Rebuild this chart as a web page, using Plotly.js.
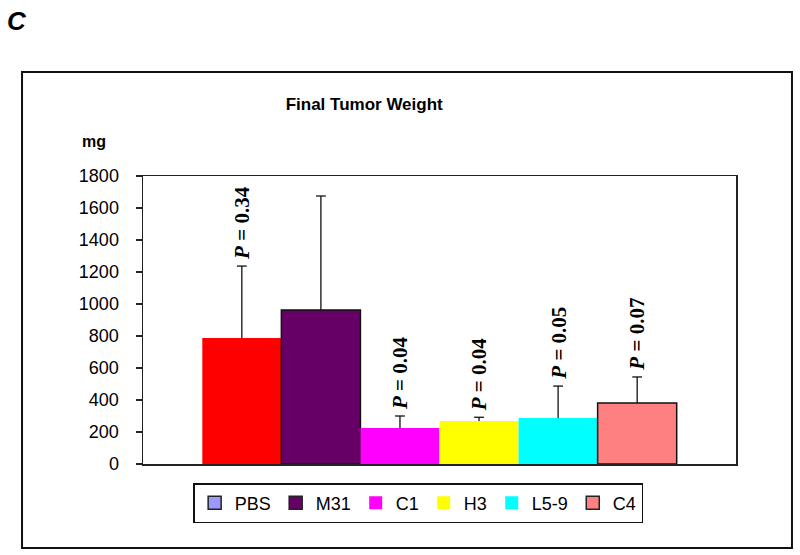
<!DOCTYPE html>
<html>
<head>
<meta charset="utf-8">
<script src="https://cdn.plot.ly/plotly-3.0.1.min.js"></script>
<style>
  body { margin: 0; background: #fff; }
  #plot { width: 800px; height: 555px; }
</style>
</head>
<body>
<div id="plot"></div>
<script>
/* Final tumor weight per group, mean + upper error (mg) */
var groups = ['PBS', 'M31', 'C1', 'H3', 'L5-9', 'C4'];
var weights = [787, 962, 225, 269, 287, 381];
var errPlus = [450, 713, 75, 23, 200, 163];
var pValues = ['0.34', '', '0.04', '0.04', '0.05', '0.07'];

var barColors = ['#ff0000', '#660066', '#ff00ff', '#ffff00', '#00ffff', '#ff8080'];
var legendColors = ['#9999ff', '#660066', '#ff00ff', '#ffff00', '#00ffff', '#ff8080'];
var edged = [false, true, false, false, false, true];
var legendEdged = [true, true, false, false, false, true];

var axisFont = 'Arial, Liberation Sans, sans-serif';

/* the bars */
var bars =
{
  x: groups,
  y: weights,
  type: 'bar',
  showlegend: false,
  marker: {
    color: barColors,
    line: {
      color: edged.map(function (e) { return e ? '#111' : 'rgba(0,0,0,0)'; }),
      width: edged.map(function (e) { return e ? 1.5 : 0; })
    }
  }
};

/* upper-only error bars: stems from bar top to mean + error, cap on top */
var stemX = [], stemY = [];
groups.forEach(function (g, i) {
  stemX.push(g, g, null);
  stemY.push(weights[i], weights[i] + errPlus[i], null);
});
var stems =
{
  x: stemX,
  y: stemY,
  type: 'scatter',
  mode: 'lines',
  showlegend: false,
  line: { color: '#111', width: 1.3 }
};
var caps =
{
  x: groups,
  y: weights.map(function (w, i) { return w + errPlus[i]; }),
  type: 'scatter',
  mode: 'markers',
  showlegend: false,
  marker: { symbol: 'line-ew-open', size: 7, color: '#111', line: { color: '#111', width: 1.3 } }
};

/* legend proxies (the legend swatch colours differ from the bars) */
var legendTraces = groups.map(function (g, i) {
  return {
    x: [null],
    y: [null],
    type: 'scatter',
    mode: 'markers',
    name: g,
    marker: {
      symbol: 'square',
      size: 13,
      color: legendColors[i],
      line: { color: '#222', width: legendEdged[i] ? 1.5 : 0 }
    }
  };
});

/* P value labels above the error bars */
var notes = [];
groups.forEach(function (g, i) {
  if (!pValues[i]) return;
  notes.push({
    x: g,
    y: weights[i] + errPlus[i],
    xref: 'x',
    yref: 'y',
    text: '<b><i>P</i> = ' + pValues[i] + '</b>',
    showarrow: false,
    textangle: -90,
    xanchor: 'center',
    yanchor: 'bottom',
    yshift: 4,
    font: { family: 'Liberation Serif, Times New Roman, serif', size: 21, color: '#000' }
  });
});

notes.push({
  text: '<b>mg</b>', xref: 'paper', yref: 'paper', x: -0.083, y: 1.1215,
  showarrow: false, xanchor: 'center', yanchor: 'middle',
  font: { family: axisFont, size: 16, color: '#000' }
});
notes.push({
  text: '<b><i>C</i></b>', xref: 'paper', yref: 'paper', x: -0.213, y: 1.538,
  showarrow: false, xanchor: 'center', yanchor: 'middle',
  font: { family: axisFont, size: 26, color: '#000' }
});

var layout =
{
  width: 800,
  height: 555,
  margin: { l: 143, r: 64, t: 176, b: 91 },
  paper_bgcolor: '#fff',
  plot_bgcolor: '#fff',
  bargap: 0,
  hovermode: false,
  title: {
    text: '<b>Final Tumor Weight</b>',
    font: { family: axisFont, size: 17, color: '#000' },
    xref: 'paper', x: 0.373, xanchor: 'center',
    yref: 'container', y: 0.8126, yanchor: 'middle'
  },
  xaxis: {
    type: 'category',
    categoryarray: groups,
    range: [-1.25, 6.25],
    showticklabels: false,
    ticks: '',
    showgrid: false,
    zeroline: false,
    showline: true,
    linecolor: '#222',
    linewidth: 1.5,
    mirror: true,
    fixedrange: true
  },
  yaxis: {
    range: [0, 1800],
    dtick: 200,
    ticks: 'outside',
    ticklen: 6,
    tickcolor: '#222',
    tickwidth: 1.5,
    ticklabelstandoff: 13,
    showgrid: false,
    zeroline: false,
    showline: true,
    linecolor: '#222',
    linewidth: 1.5,
    mirror: true,
    tickfont: { family: axisFont, size: 18, color: '#000' },
    fixedrange: true
  },
  legend: {
    orientation: 'h',
    x: 0.464,
    xanchor: 'center',
    y: -0.066,
    yanchor: 'top',
    bordercolor: '#111',
    borderwidth: 1.5,
    bgcolor: '#fff',
    itemwidth: 30,
    font: { family: axisFont, size: 18, color: '#000' }
  },
  annotations: notes,
  shapes: [
    {
      type: 'rect', xref: 'paper', yref: 'paper',
      x0: -0.204, x1: 1.0944, y0: -0.2917, y1: 1.361,
      line: { color: '#111', width: 2 }
    }
  ]
};

Plotly.newPlot('plot', [bars, stems, caps].concat(legendTraces), layout, { displayModeBar: false, staticPlot: true });
</script>
</body>
</html>
